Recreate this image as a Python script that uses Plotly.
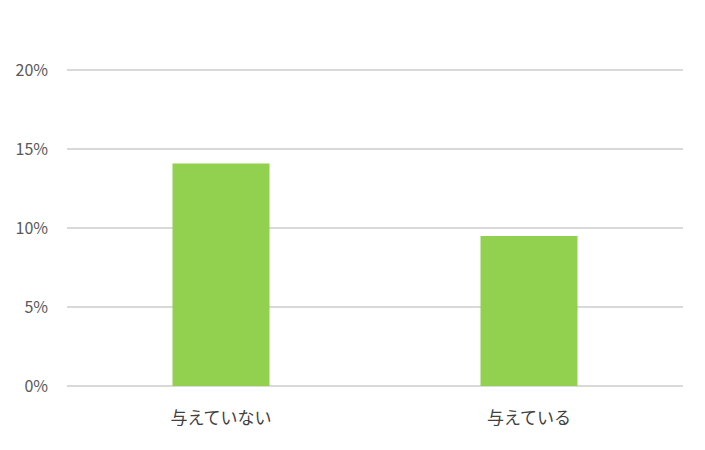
import plotly.graph_objects as go

categories = ["与えていない", "与えている"]
values = [0.141, 0.095]
y_ticks = [0, 0.05, 0.10, 0.15, 0.20]

fig = go.Figure(
    go.Bar(
        x=categories,
        y=values,
        marker=dict(color="#92D050", line=dict(width=0)),
        width=0.315,
    )
)

# the page adds an 8px body margin, so margins are shifted by that much
fig.update_layout(
    width=705,
    height=450,
    margin=dict(l=59, r=30, t=56, b=72),
    paper_bgcolor="white",
    plot_bgcolor="white",
    showlegend=False,
    font=dict(family="Noto Sans CJK JP", size=16, color="#595959"),
)
fig.update_xaxes(
    showgrid=False,
    showline=False,
    ticks="",
    automargin=False,
    ticklabelstandoff=20,
    tickfont=dict(size=17, color="#404040"),
)
fig.update_yaxes(
    range=[0, 0.204],
    tickvals=y_ticks,
    tickformat=".0%",
    showgrid=True,
    gridcolor="#D9D9D9",
    gridwidth=1.5,
    zeroline=True,
    zerolinecolor="#D9D9D9",
    zerolinewidth=1.5,
    ticks="",
    automargin=False,
    ticklabelstandoff=18,
    tickfont=dict(size=16, color="#595959"),
)

fig.write_html("out.html")
